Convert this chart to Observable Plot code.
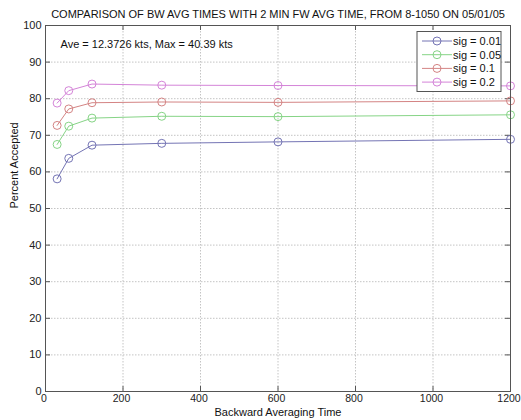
<!DOCTYPE html>
<html>
<head>
<meta charset="utf-8">
<script src="https://cdn.jsdelivr.net/npm/d3@7"></script>
<script src="https://cdn.jsdelivr.net/npm/@observablehq/plot@0.6"></script>
<style>
  body { margin: 0; background: #fff; }
  svg { display: block; }
</style>
</head>
<body>
<div id="chart"></div>
<script>
const titleText = "COMPARISON OF BW AVG TIMES WITH 2 MIN FW AVG TIME, FROM 8-1050 ON 05/01/05";
const annotationText = "Ave = 12.3726 kts, Max = 40.39 kts";
const xLabel = "Backward Averaging Time";
const yLabel = "Percent Accepted";

const xValues = [30, 60, 120, 300, 600, 1200];
const sig001 = [58.1, 63.7, 67.3, 67.8, 68.2, 68.9];
const sig005 = [67.5, 72.5, 74.7, 75.2, 75.1, 75.6];
const sig01  = [72.7, 77.2, 78.9, 79.1, 79.0, 79.4];
const sig02  = [78.8, 82.2, 84.0, 83.7, 83.6, 83.5];

const seriesNames = ["sig = 0.01", "sig = 0.05", "sig = 0.1", "sig = 0.2"];
const seriesValues = [sig001, sig005, sig01, sig02];
const seriesColors = ["#7474b4", "#86d486", "#d48484", "#d484d8"];

const xTicks = [0, 200, 400, 600, 800, 1000, 1200];
const yTicks = [0, 10, 20, 30, 40, 50, 60, 70, 80, 90, 100];

const data = seriesNames.flatMap((name, i) =>
  xValues.map((x, j) => ({x, y: seriesValues[i][j], sig: name}))
);

const W = 521, H = 420;
const mL = 45, mR = 11, mT = 25, mB = 29;
const innerW = W - mL - mR, innerH = H - mT - mB;
const font = "Liberation Sans, Arial, sans-serif";
const fs = 11;

const plot = Plot.plot({
  width: W,
  height: H,
  marginLeft: mL,
  marginRight: mR,
  marginTop: mT,
  marginBottom: mB,
  style: {fontFamily: font, fontSize: fs + "px", background: "#fff", color: "#222"},
  x: {domain: [0, 1200], ticks: xTicks, label: null, tickFormat: d3.format("d")},
  y: {domain: [0, 100], ticks: yTicks, label: null},
  color: {domain: seriesNames, range: seriesColors},
  marks: [
    Plot.gridX(xTicks, {stroke: "#c4c4c4", strokeOpacity: 1, strokeDasharray: "1.5,1.5"}),
    Plot.gridY(yTicks, {stroke: "#c4c4c4", strokeOpacity: 1, strokeDasharray: "1.5,1.5"}),
    Plot.tickX(xTicks, {x: d => d, insetTop: innerH - 5, stroke: "#555"}),
    Plot.tickX(xTicks, {x: d => d, insetBottom: innerH - 5, stroke: "#555"}),
    Plot.tickY(yTicks, {y: d => d, insetRight: innerW - 5, stroke: "#555"}),
    Plot.tickY(yTicks, {y: d => d, insetLeft: innerW - 5, stroke: "#555"}),
    Plot.axisX(xTicks, {tickSize: 0, tickPadding: 3, fontSize: 10.5, dx: -1.5, fill: "#222", tickFormat: d3.format("d")}),
    Plot.axisY(yTicks, {tickSize: 0, tickPadding: 4, fontSize: fs, fill: "#222"}),
    Plot.line(data, {x: "x", y: "y", stroke: "sig", strokeWidth: 1}),
    Plot.dot(data, {x: "x", y: "y", stroke: "sig", fill: "none", r: 4, strokeWidth: 1}),
    Plot.frame({stroke: "#555", strokeWidth: 1}),
    Plot.text([titleText], {frameAnchor: "top", lineAnchor: "middle", dy: -11.5, fontSize: fs, fill: "#111"}),
    Plot.text([annotationText], {frameAnchor: "top-left", lineAnchor: "middle", dx: 15, dy: 19, textAnchor: "start", fontSize: fs, fill: "#111"}),
    Plot.text([xLabel], {frameAnchor: "bottom", lineAnchor: "middle", dy: 21, fontSize: fs, fill: "#111"}),
    Plot.text([yLabel], {frameAnchor: "left", dx: -31, rotate: -90, fontSize: fs, fill: "#111"})
  ]
});

document.getElementById("chart").appendChild(plot);

// Legend box (inside the plot frame, top right)
const svg = d3.select(plot);
const boxRight = W - mR - 9, boxTop = mT + 6.5;
const boxW = 84, boxH = 60;
const lg = svg.append("g").attr("font-family", font).attr("font-size", fs).attr("text-anchor", "start");
lg.append("rect")
  .attr("x", boxRight - boxW).attr("y", boxTop)
  .attr("width", boxW).attr("height", boxH)
  .attr("fill", "#fff").attr("stroke", "#555");
seriesNames.forEach((name, i) => {
  const cy = boxTop + 9.5 + i * 13.7;
  const x0 = boxRight - boxW + 5;
  lg.append("line").attr("x1", x0).attr("x2", x0 + 30).attr("y1", cy).attr("y2", cy)
    .attr("stroke", seriesColors[i]);
  lg.append("circle").attr("cx", x0 + 15).attr("cy", cy).attr("r", 4)
    .attr("fill", "none").attr("stroke", seriesColors[i]);
  lg.append("text").attr("x", x0 + 31).attr("y", cy).attr("dy", "0.35em")
    .attr("text-anchor", "start").attr("fill", "#111").text(name);
});
</script>
</body>
</html>
